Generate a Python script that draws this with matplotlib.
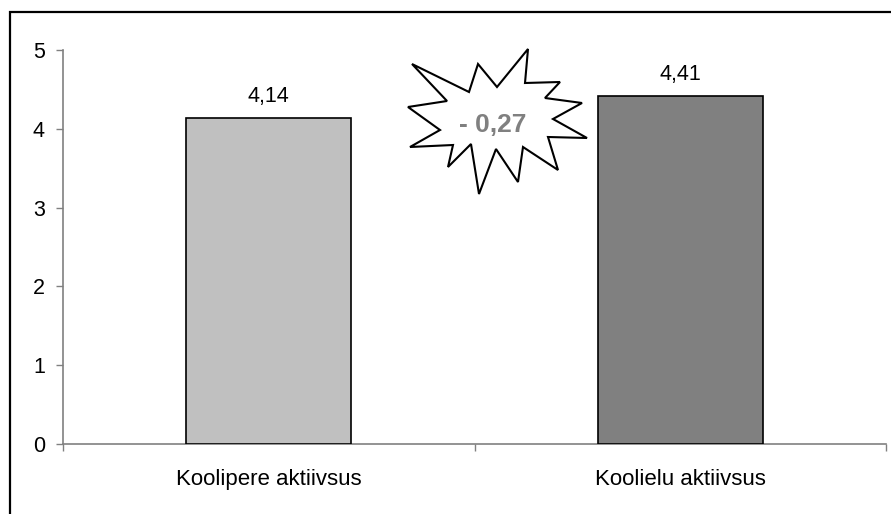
import matplotlib
matplotlib.use("Agg")
import matplotlib.pyplot as plt
from matplotlib.patches import Polygon, Rectangle
from matplotlib.ticker import FixedLocator, NullFormatter

plt.rcParams['font.family'] = ['Liberation Sans', 'DejaVu Sans']

categories = ["Koolipere aktiivsus", "Koolielu aktiivsus"]
values = [4.14, 4.41]
bar_colors = ["#C0C0C0", "#808080"]
y_ticks = [0, 1, 2, 3, 4, 5]

W, H = 891, 514
fig = plt.figure(figsize=(W / 100, H / 100), dpi=100)
ax = fig.add_axes([63 / W, 70 / H, (886 - 63) / W, 394 / H])

x = list(range(len(categories)))
ax.bar(x, values, width=0.4, color=bar_colors, edgecolor="black", linewidth=1.2, zorder=3)

for xi, v in zip(x, values):
    ax.annotate(f"{v:.2f}".replace(".", ","), (xi, v), xytext=(0, 8),
                textcoords="offset points", ha="center", va="bottom", fontsize=15.5)

ax.set_xlim(-0.5, len(categories) - 0.5)
ax.set_ylim(0, 5)
ax.set_yticks(y_ticks)
ax.set_yticklabels([str(t) for t in y_ticks])
ax.set_xticks(x)
ax.set_xticklabels(categories)
ax.xaxis.set_minor_locator(FixedLocator([i - 0.5 for i in range(len(categories) + 1)]))
ax.xaxis.set_minor_formatter(NullFormatter())
ax.tick_params(axis="x", which="major", length=0, pad=18, labelsize=16)
ax.tick_params(axis="x", which="minor", length=5, width=1, color="#808080", direction="out")
ax.tick_params(axis="y", length=5, width=1, color="#808080", pad=8, labelsize=15.5)
for s in ["top", "right"]:
    ax.spines[s].set_visible(False)
for s in ["left", "bottom"]:
    ax.spines[s].set_color("#808080")
    ax.spines[s].set_linewidth(1.2)

# starburst annotation (pixel outline converted to axes fraction)
star_px = [(412, 64), (469, 92), (478, 64), (497, 87), (528, 49), (525, 83),
           (560, 82), (545, 98), (582, 103), (553, 119), (587, 138), (548, 137),
           (558, 170), (523, 147), (518, 182), (496, 149), (479, 194), (471, 144),
           (448, 167), (453, 145), (410, 147), (440, 130), (408, 107), (447, 101)]
star_ax = [((px - 63) / 823, (444 - py) / 394) for px, py in star_px]
star = Polygon(star_ax, closed=True, facecolor="white", edgecolor="black",
               linewidth=1.5, transform=ax.transAxes, zorder=5, clip_on=False)
ax.add_patch(star)
diff = values[0] - values[1]
ax.text((493 - 63) / 823, (444 - 125) / 394, f"- {abs(diff):.2f}".replace(".", ","),
        transform=ax.transAxes, ha="center", va="center", fontsize=19,
        fontweight="bold", color="#808080", zorder=6)

# outer frame
fig.patches.append(Rectangle((10 / W, -0.05), 1.1, (514 - 12) / H + 0.05,
                             transform=fig.transFigure, fill=False,
                             edgecolor="black", linewidth=1.6))

fig.savefig("out.png", dpi=100)
